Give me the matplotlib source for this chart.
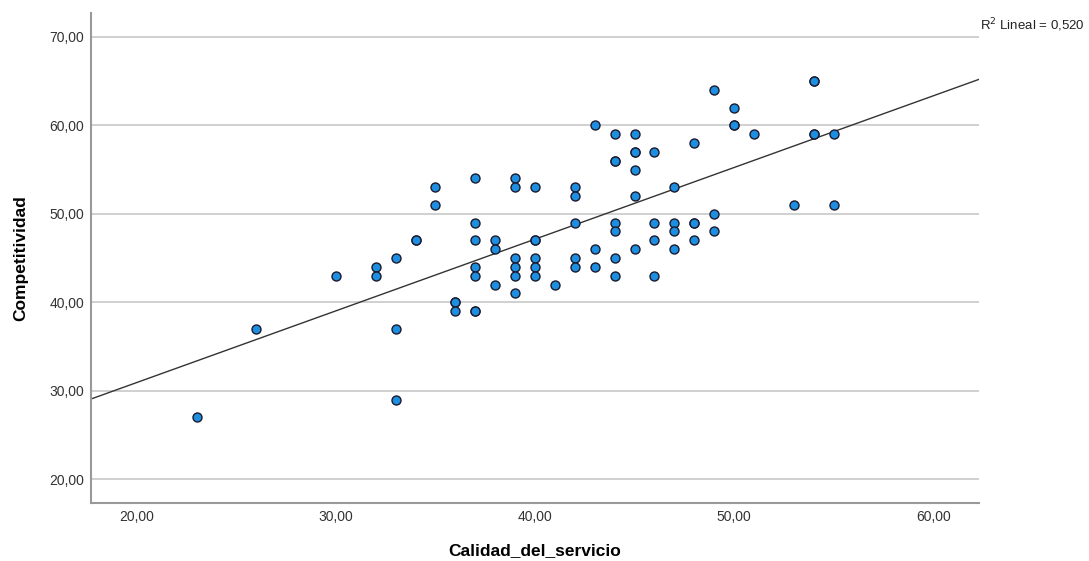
import matplotlib
matplotlib.use('Agg')
import matplotlib.pyplot as plt
import numpy as np

plt.rcParams['font.family'] = ['Liberation Sans', 'DejaVu Sans']

# ========== DATA ==========
# overlapping (darker) markers in the reference are listed twice
calidad = [23, 26, 30, 32, 32, 33, 33, 33, 34, 34, 35, 35, 36, 36, 36,
           37, 37, 37, 37, 37, 37, 37, 38, 38, 38,
           39, 39, 39, 39, 39, 39, 40, 40, 40, 40, 40, 40, 41,
           42, 42, 42, 42, 42, 43, 43, 43,
           44, 44, 44, 44, 44, 44, 44, 45, 45, 45, 45, 45, 45,
           46, 46, 46, 46, 47, 47, 47, 47, 48, 48, 48, 48,
           49, 49, 49, 50, 50, 50, 51, 53, 54, 54, 54, 54, 55, 55]
competitividad = [27, 37, 43, 44, 43, 45, 37, 29, 47, 47, 53, 51, 40, 40, 39,
                  54, 49, 47, 44, 43, 39, 39, 47, 46, 42,
                  54, 53, 45, 44, 43, 41, 53, 47, 47, 45, 44, 43, 42,
                  53, 52, 49, 45, 44, 60, 46, 44,
                  59, 56, 56, 49, 48, 45, 43, 59, 57, 57, 55, 52, 46,
                  57, 49, 47, 43, 53, 49, 48, 46, 58, 49, 49, 47,
                  64, 50, 48, 62, 60, 60, 59, 51, 65, 65, 59, 59, 59, 51]
x_ticks = [20, 30, 40, 50, 60]
y_ticks = [20, 30, 40, 50, 60, 70]
r2_text = 'R$^2$ Lineal = 0,520'

x = np.array(calidad, dtype=float)
y = np.array(competitividad, dtype=float)
slope, intercept = np.polyfit(x, y, 1)

fig = plt.figure(figsize=(10.89, 5.61), dpi=100)
ax = fig.add_axes([91/1089, 1 - 503/561, (979-91)/1089, (503-13)/561])

xlim = (17.7, 62.3)
ax.set_xlim(*xlim)
ax.set_ylim(17.3, 72.7)

for v in y_ticks:
    ax.axhline(v, color='#c8c8c8', linewidth=1.2, zorder=0)

xl = np.array(xlim)
ax.plot(xl, slope*xl + intercept, color='#333333', linewidth=1, zorder=2)
ax.scatter(x, y, s=42, facecolor='#1e8fe0', edgecolor='#1a1a2e', linewidth=1.0, zorder=3)

ax.set_xticks(x_ticks)
ax.set_xticklabels([f'{v},00' for v in x_ticks])
ax.set_yticks(y_ticks)
ax.set_yticklabels([f'{v},00' for v in y_ticks])
ax.tick_params(length=0, labelsize=10, colors='#333333')
ax.tick_params(axis='y', pad=5)
ax.tick_params(axis='x', pad=5)

for s in ['top', 'right']:
    ax.spines[s].set_visible(False)
for s in ['left', 'bottom']:
    ax.spines[s].set_color('#999999')
    ax.spines[s].set_linewidth(1.5)

ax.set_xlabel('Calidad_del_servicio', fontsize=12.5, fontweight='bold', labelpad=14)
ax.set_ylabel('Competitividad', fontsize=12.5, fontweight='bold', labelpad=15,
              family=['Liberation Sans Narrow', 'Liberation Sans'])

fig.text(980/1089, 1 - 25/561, r2_text, fontsize=9.5, color='#222222', va='center', ha='left')

fig.savefig('out.png', dpi=100)
